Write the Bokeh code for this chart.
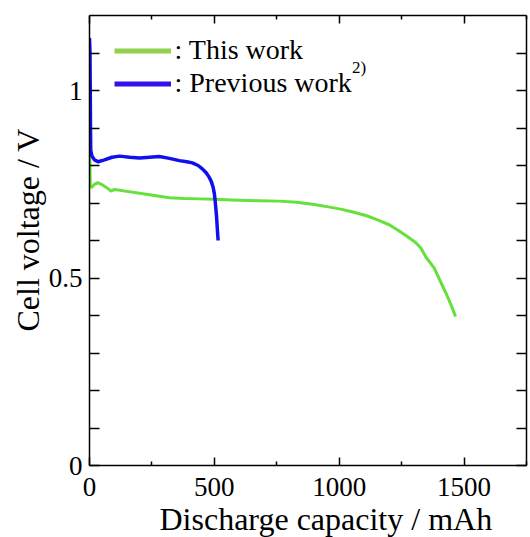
import math
from bokeh.plotting import figure
from bokeh.models import (Range1d, LinearAxis, FixedTicker, Legend, LegendItem,
                          Label, Title, CustomLabelingPolicy)
from bokeh.embed import file_html
from bokeh.resources import INLINE

# ---- data ----
this_cap = [0, 1, 2, 3, 9, 20, 35, 55, 75, 85, 101, 150, 201, 260, 320, 380, 439,
            500, 570, 678, 760, 829, 900, 962, 1010, 1055, 1110, 1161, 1200, 1234,
            1270, 1307, 1327, 1347, 1380, 1406, 1430, 1450, 1466]
this_volt = [1.02, 0.90, 0.80, 0.745, 0.742, 0.750, 0.754, 0.747, 0.738, 0.732, 0.736,
             0.731, 0.726, 0.720, 0.714, 0.712, 0.711, 0.710, 0.708, 0.706, 0.705,
             0.702, 0.696, 0.689, 0.683, 0.676, 0.666, 0.653, 0.642, 0.628, 0.612,
             0.594, 0.580, 0.556, 0.527, 0.490, 0.456, 0.425, 0.397]

prev_cap = [0, 2, 3, 4, 5, 10, 20, 34, 60, 90, 121, 160, 201, 240, 280, 320, 360, 390,
            412, 435, 452, 468, 479, 488, 495, 500, 503, 506, 509, 512, 515]
prev_volt = [1.14, 1.10, 1.00, 0.90, 0.84, 0.825, 0.815, 0.810, 0.815, 0.822, 0.825,
             0.822, 0.820, 0.822, 0.824, 0.819, 0.813, 0.810, 0.807, 0.800, 0.791,
             0.780, 0.769, 0.757, 0.742, 0.725, 0.707, 0.685, 0.662, 0.630, 0.600]

x_major = [0, 500, 1000, 1500]
x_minor = [250, 750, 1250, 1750]
y_major = [0, 0.5, 1]
y_minor = [0.1, 0.2, 0.3, 0.4, 0.6, 0.7, 0.8, 0.9, 1.1]
y_tick_labels = {0: "0", 0.5: "0.5", 1: "1"}

legend_labels = [": This work", ": Previous work"]
reference_mark = "2)"
x_title = "Discharge capacity / mAh"
y_title = "Cell voltage / V"

FONT = "Liberation Serif"
GREEN = "#66e03c"
BLUE = "#1010ee"
GREEN_LEG = "#92d050"
BLUE_LEG = "#3311ee"

p = figure(width=530, height=537,
           min_border_left=89, min_border_right=1, min_border_top=15, min_border_bottom=72,
           x_range=Range1d(0, 1750), y_range=Range1d(0, 1.2),
           output_backend="svg", toolbar_location=None,
           x_axis_location=None, y_axis_location=None)
p.outline_line_color = None
p.grid.visible = False
p.background_fill_color = "white"
p.border_fill_color = "white"

no_labels = CustomLabelingPolicy(code="for (const i of indices) indices.unset(i); return indices")

def style_axis(ax, major, minor, tin_major, tin_minor, labels=True):
    ax.ticker = FixedTicker(ticks=major, minor_ticks=minor)
    ax.axis_line_color = "black"
    ax.axis_line_width = 1.5
    ax.major_tick_line_color = "black"
    ax.minor_tick_line_color = "black"
    ax.major_tick_line_width = 1.5
    ax.minor_tick_line_width = 1.5
    ax.major_tick_in = tin_major
    ax.major_tick_out = 0
    ax.minor_tick_in = tin_minor
    ax.minor_tick_out = 0
    ax.major_label_text_font = FONT
    ax.major_label_text_color = "black"
    if labels:
        ax.major_label_text_font_size = "27px"
    else:
        ax.major_label_text_font_size = "1px"
        ax.major_label_standoff = 0
        ax.major_label_policy = no_labels

bottom = LinearAxis()
style_axis(bottom, x_major, x_minor, 8, 4)
bottom.major_label_standoff = 12
top = LinearAxis()
style_axis(top, x_major, x_minor, 8, 4, labels=False)
left = LinearAxis()
style_axis(left, y_major, y_minor, 10, 10)
left.major_label_standoff = 7
left.major_label_overrides = y_tick_labels
right = LinearAxis()
style_axis(right, y_major, y_minor, 10, 10, labels=False)

p.add_layout(bottom, "below")
p.add_layout(top, "above")
p.add_layout(left, "left")
p.add_layout(right, "right")

p.add_layout(Title(text=x_title, text_font=FONT, text_font_size="32px",
                   text_font_style="normal", text_color="black",
                   align="left", offset=70, standoff=0), "below")
p.add_layout(Title(text=y_title, text_font=FONT, text_font_size="32px",
                   text_font_style="normal", text_color="black",
                   align="left", offset=134, standoff=0), "left")

g = p.line(this_cap, this_volt, line_color=GREEN, line_width=3, line_join="round")
b = p.line(prev_cap, prev_volt, line_color=BLUE, line_width=3.5, line_join="round")

# legend swatches: renderers with a single undefined point, carrying the legend's line style
lg = p.line([float("nan")], [float("nan")], line_color=GREEN_LEG, line_width=5)
lb = p.line([float("nan")], [float("nan")], line_color=BLUE_LEG, line_width=5)

legend = Legend(items=[LegendItem(label=legend_labels[0], renderers=[lg]),
                       LegendItem(label=legend_labels[1], renderers=[lb])],
                location=(24.5, 365.5), orientation="vertical",
                glyph_width=57, glyph_height=33, label_height=33, spacing=0,
                padding=0, margin=0, label_standoff=4,
                label_text_font=FONT, label_text_font_size="28px",
                label_text_color="black",
                border_line_alpha=0, background_fill_alpha=0)
p.add_layout(legend, "center")

p.add_layout(Label(x=262.5, y=398, x_units="screen", y_units="screen",
                   text=reference_mark, text_font=FONT, text_font_size="17px",
                   text_baseline="middle", text_align="left", text_color="black"))

open("out.html", "w").write(file_html(p, INLINE))
